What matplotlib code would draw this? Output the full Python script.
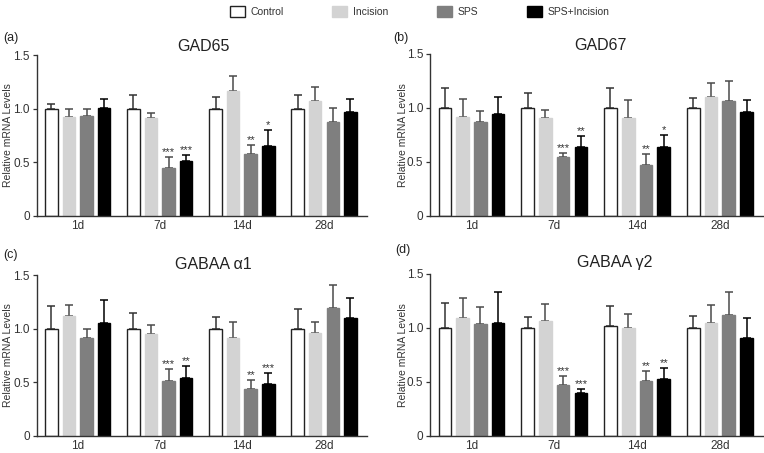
import numpy as np
import matplotlib
matplotlib.use("Agg")
import matplotlib.pyplot as plt
from matplotlib.patches import Patch

plt.rcParams['font.family'] = ['Liberation Sans', 'DejaVu Sans']

# ---- data ----
groups = ['1d', '7d', '14d', '28d']
series = ['Control', 'Incision', 'SPS', 'SPS+Incision']

# GAD65 (mean / upper error) per series over groups
gad65_control = [1.00, 1.00, 1.00, 1.00]
gad65_control_err = [0.04, 0.13, 0.11, 0.13]
gad65_incision = [0.92, 0.91, 1.16, 1.075]
gad65_incision_err = [0.08, 0.05, 0.14, 0.125]
gad65_sps = [0.935, 0.45, 0.575, 0.875]
gad65_sps_err = [0.065, 0.10, 0.085, 0.13]
gad65_spsi = [1.01, 0.51, 0.655, 0.97]
gad65_spsi_err = [0.08, 0.06, 0.145, 0.12]

# GAD67
gad67_control = [1.00, 1.00, 1.00, 1.00]
gad67_control_err = [0.18, 0.14, 0.18, 0.09]
gad67_incision = [0.915, 0.91, 0.91, 1.105]
gad67_incision_err = [0.165, 0.07, 0.165, 0.125]
gad67_sps = [0.87, 0.54, 0.47, 1.065]
gad67_sps_err = [0.105, 0.04, 0.10, 0.185]
gad67_spsi = [0.94, 0.64, 0.64, 0.965]
gad67_spsi_err = [0.16, 0.095, 0.11, 0.105]

# GABAA alpha1
a1_control = [1.00, 1.00, 1.00, 1.00]
a1_control_err = [0.21, 0.15, 0.11, 0.18]
a1_incision = [1.12, 0.95, 0.91, 0.96]
a1_incision_err = [0.105, 0.08, 0.155, 0.105]
a1_sps = [0.91, 0.51, 0.44, 1.19]
a1_sps_err = [0.09, 0.11, 0.08, 0.22]
a1_spsi = [1.05, 0.54, 0.48, 1.10]
a1_spsi_err = [0.215, 0.11, 0.105, 0.185]

# GABAA gamma2
g2_control = [1.00, 1.00, 1.02, 1.00]
g2_control_err = [0.23, 0.10, 0.18, 0.115]
g2_incision = [1.09, 1.06, 1.00, 1.045]
g2_incision_err = [0.185, 0.16, 0.13, 0.165]
g2_sps = [1.035, 0.47, 0.505, 1.12]
g2_sps_err = [0.155, 0.08, 0.095, 0.215]
g2_spsi = [1.045, 0.40, 0.525, 0.905]
g2_spsi_err = [0.285, 0.03, 0.10, 0.19]

# significance marks: (group index, series index, text)
gad65_stars = [(1, 2, '***'), (1, 3, '***'), (2, 2, '**'), (2, 3, '*')]
gad67_stars = [(1, 2, '***'), (1, 3, '**'), (2, 2, '**'), (2, 3, '*')]
a1_stars = [(1, 2, '***'), (1, 3, '**'), (2, 2, '**'), (2, 3, '***')]
g2_stars = [(1, 2, '***'), (1, 3, '***'), (2, 2, '**'), (2, 3, '**')]

# ---- style ----
face_colors = ['white', '#d3d3d3', '#7f7f7f', 'black']
edge_colors = ['#222222', '#d3d3d3', '#7f7f7f', 'black']
err_colors = ['#333333', '#4a4a4a', '#4a4a4a', 'black']
W, H = 764, 453


def px_rect(left, top, right, bottom):
    return [left / W, 1 - bottom / H, (right - left) / W, (bottom - top) / H]


panels = [
    dict(tag='(a)', title='GAD65', rect=px_rect(36.7, 55, 366.7, 216), title_xy=(203, 51), tag_xy=(3, 32),
         ylab_x=8,
         means=[gad65_control, gad65_incision, gad65_sps, gad65_spsi],
         errs=[gad65_control_err, gad65_incision_err, gad65_sps_err, gad65_spsi_err],
         stars=gad65_stars),
    dict(tag='(b)', title='GAD67', rect=px_rect(430, 54, 763, 215.5), title_xy=(600, 50), tag_xy=(393, 32),
         ylab_x=402.5,
         means=[gad67_control, gad67_incision, gad67_sps, gad67_spsi],
         errs=[gad67_control_err, gad67_incision_err, gad67_sps_err, gad67_spsi_err],
         stars=gad67_stars),
    dict(tag='(c)', title='GABAA α1', rect=px_rect(36.7, 275, 366.7, 436), title_xy=(213, 269), tag_xy=(3, 249),
         ylab_x=8,
         means=[a1_control, a1_incision, a1_sps, a1_spsi],
         errs=[a1_control_err, a1_incision_err, a1_sps_err, a1_spsi_err],
         stars=a1_stars),
    dict(tag='(d)', title='GABAA γ2', rect=px_rect(430, 274, 763, 435.7), title_xy=(615, 266.5), tag_xy=(395, 244),
         ylab_x=402.5,
         means=[g2_control, g2_incision, g2_sps, g2_spsi],
         errs=[g2_control_err, g2_incision_err, g2_sps_err, g2_spsi_err],
         stars=g2_stars),
]

fig = plt.figure(figsize=(W / 100, H / 100), dpi=100)

x = np.arange(len(groups))
step = 0.214
width = 0.152
offsets = (np.arange(len(series)) - 1.5) * step

for p in panels:
    ax = fig.add_axes(p['rect'])
    for i in range(len(series)):
        ax.bar(x + offsets[i], p['means'][i], width, color=face_colors[i],
               edgecolor=edge_colors[i], linewidth=1.0, zorder=2)
        ax.errorbar(x + offsets[i], p['means'][i], yerr=[np.zeros(len(groups)), p['errs'][i]],
                    fmt='none', ecolor=err_colors[i], elinewidth=1.1, capsize=3, capthick=1.1, zorder=1)
    for g, s, txt in p['stars']:
        top = p['means'][s][g] + p['errs'][s][g]
        ax.annotate(txt, (x[g] + offsets[s], top), xytext=(0, 0), textcoords='offset points',
                    ha='center', va='bottom', fontsize=8, color='#333333')

    ax.set_xlim(-0.5, 3.52)
    ax.set_ylim(0, 1.5)
    ax.set_yticks([0, 0.5, 1.0, 1.5])
    ax.set_yticklabels(['0', '0.5', '1.0', '1.5'])
    ax.set_xticks(x)
    ax.set_xticklabels(groups)
    ax.tick_params(axis='x', length=0, pad=3, labelsize=8.5, labelcolor='#333333')
    ax.tick_params(axis='y', length=3, width=0.9, pad=2, labelsize=8.5, labelcolor='#333333', color='#333333')
    for side in ['top', 'right']:
        ax.spines[side].set_visible(False)
    for side in ['left', 'bottom']:
        ax.spines[side].set_color('#333333')
        ax.spines[side].set_linewidth(1.0)

    tx, ty = p['title_xy']
    fig.text(tx / W, 1 - ty / H, p['title'], ha='center', va='baseline', fontsize=11.5, color='#222222')
    lx, ly = p['tag_xy']
    fig.text(lx / W, 1 - ly / H, p['tag'], ha='left', va='top', fontsize=9, color='#222222')
    yc = p['rect'][1] + p['rect'][3] / 2
    fig.text(p['ylab_x'] / W, yc, 'Relative mRNA Levels', rotation=90, ha='center', va='center',
             fontsize=7.5, color='#333333')

handles = [Patch(facecolor=face_colors[i], edgecolor=edge_colors[i], linewidth=1.0) for i in range(len(series))]
fig.legend(handles, series, loc='upper center', bbox_to_anchor=(0.549, 1.008), ncol=4, frameon=False,
           fontsize=7.5, handlelength=1.45, handleheight=1.25, handletextpad=0.5, columnspacing=4.7,
           labelcolor='#333333')

fig.savefig('out.png', dpi=100)
